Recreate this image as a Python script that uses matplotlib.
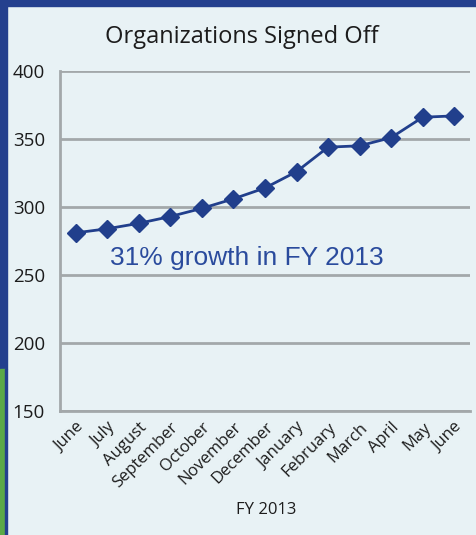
import matplotlib.pyplot as plt
from matplotlib.patches import Rectangle

# monthly counts of organizations signed off, FY 2013
months = ["June", "July", "August", "September", "October", "November",
          "December", "January", "February", "March", "April", "May", "June"]
signed_off = [281, 284, 288, 293, 299, 306, 314, 326, 344, 345, 351, 366, 367]
y_ticks = [150, 200, 250, 300, 350, 400]

bg = "#e8f2f5"
navy = "#24408e"
line_col = "#213f8c"
grid_col = "#a3a8aa"
txt = "#1c1c1c"

fig = plt.figure(figsize=(4.77, 5.35), dpi=100, facecolor=bg)
ax = fig.add_axes([60 / 477, 1 - 411 / 535, 410 / 477, 340 / 535])
ax.set_facecolor(bg)

x = list(range(len(months)))
ax.plot(x, signed_off, color=line_col, lw=2, marker="D", ms=9,
        markerfacecolor=line_col, markeredgecolor=line_col, zorder=3)

ax.set_xlim(-0.5, len(months) - 0.5)
ax.set_ylim(150, 400)
ax.set_yticks(y_ticks)
ax.yaxis.grid(True, color=grid_col, lw=2)
ax.set_axisbelow(True)
for side in ["top", "right"]:
    ax.spines[side].set_visible(False)
ax.spines["left"].set_color(grid_col)
ax.spines["left"].set_linewidth(2)
ax.spines["bottom"].set_color(grid_col)
ax.spines["bottom"].set_linewidth(2)
ax.tick_params(length=0)

ax.set_xticks(x)
ax.set_xticklabels(months, rotation=45, ha="right", rotation_mode="anchor",
                   fontsize=12, family="Open Sans", color=txt)
for lbl in ax.get_yticklabels():
    lbl.set_family("Open Sans")
    lbl.set_fontsize(13.5)
    lbl.set_color(txt)
    lbl.set_horizontalalignment("left")
ax.tick_params(axis="y", pad=34)
ax.tick_params(axis="x", pad=6)

fig.text(242 / 477, 1 - 37 / 535, "Organizations Signed Off", ha="center",
         va="center", fontsize=17, family="Open Sans", color=txt)
fig.text(266 / 477, 1 - 510 / 535, "FY 2013", ha="center", va="center",
         fontsize=12, family="Open Sans", color=txt)
ax.text(1.1, 257, "31% growth in FY 2013", ha="left", va="baseline",
        fontsize=19, family="Liberation Sans", color="#2a4b9d")

# frame strips along the top and left edge
fig.patches.append(Rectangle((0, 1 - 6 / 535), 1, 6 / 535, color=navy,
                             transform=fig.transFigure, figure=fig))
fig.patches.append(Rectangle((0, 1 - 369 / 535), 7 / 477, 369 / 535, color=navy,
                             transform=fig.transFigure, figure=fig))
fig.patches.append(Rectangle((0, 0), 5 / 477, 1 - 369 / 535, color="#5ba947",
                             transform=fig.transFigure, figure=fig))
fig.patches.append(Rectangle((5 / 477, 0), 2 / 477, 1 - 369 / 535, color=navy,
                             transform=fig.transFigure, figure=fig))

fig.savefig("out.png", dpi=100, facecolor=bg)
